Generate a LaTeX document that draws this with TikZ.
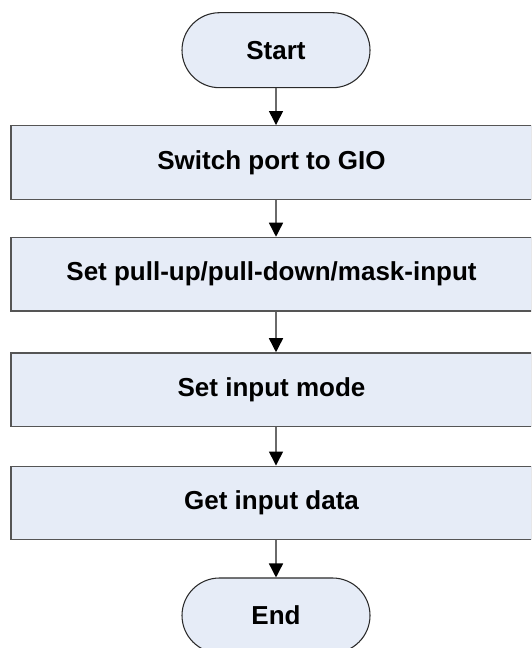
\documentclass[tikz,border=0pt]{standalone}
\usepackage{fontspec}
\setmainfont{Liberation Sans}
\usetikzlibrary{arrows.meta,shapes.misc}
\definecolor{boxfill}{HTML}{E6ECF7}
\definecolor{boxline}{HTML}{555555}
\definecolor{termline}{HTML}{2A2A2A}
\definecolor{flowline}{HTML}{6A6A6A}
\begin{document}
\begin{tikzpicture}[x=0.75pt,y=-0.75pt,
  every node/.style={font=\fontsize{19.5}{23}\selectfont\bfseries, text=black, inner sep=0pt},
  terminal/.style={rounded rectangle, draw=termline, line width=0.8pt, fill=boxfill,
    minimum width=141pt, minimum height=56.25pt},
  process/.style={rectangle, draw=boxline, line width=1pt, fill=boxfill,
    minimum width=390.75pt, minimum height=55.2pt},
  flow/.style={draw=flowline, line width=1.1pt,
    -{Triangle[width=10.5pt,length=10.5pt,color=black]}}]
\useasboundingbox (0,0) rectangle (531,648);
\begin{scope}
\clip (0,0) rectangle (531,648);
\node[terminal] (start) at (276,50.2) {Start};
\node[process] (p1) at (271.5,162.5) {Switch port to GIO};
\node[process] (p2) at (271.5,274.2) {Set pull-up/pull-down/mask-input};
\node[process] (p3) at (271.5,389.7) {Set input mode};
\node[process] (p4) at (271.5,503.0) {Get input data};
\node[terminal] (end) at (276,615.5) {End};
\end{scope}
\draw[flow] (start.south) -- (start.south |- p1.north);
\draw[flow] (start.south |- p1.south) -- (start.south |- p2.north);
\draw[flow] (start.south |- p2.south) -- (start.south |- p3.north);
\draw[flow] (start.south |- p3.south) -- (start.south |- p4.north);
\draw[flow] (start.south |- p4.south) -- (end.north);
\end{tikzpicture}
\end{document}
